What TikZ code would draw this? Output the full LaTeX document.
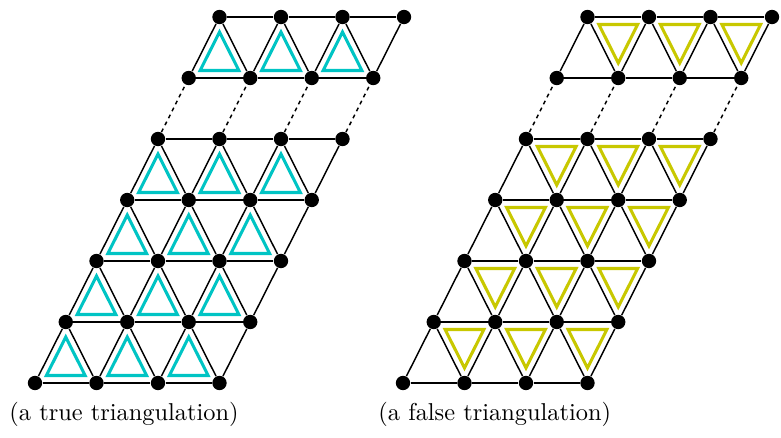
\documentclass[tikz,border=0pt]{standalone}
\usetikzlibrary{calc}
\pgfdeclarelayer{background}
\pgfsetlayers{background,main}
\definecolor{tricyan}{RGB}{0,196,196}
\definecolor{triyellow}{RGB}{200,200,0}
\tikzset{
  dot/.style={circle,fill=black,inner sep=0pt,minimum size=5.9pt},
  edge/.style={line width=0.6pt},
  dashedge/.style={line width=0.6pt,dash pattern=on 1.6pt off 1.6pt},
  uptri/.style={draw=tricyan,line width=1.25pt},
  dntri/.style={draw=triyellow,line width=1.25pt},
  lab/.style={anchor=base west,inner sep=0pt,font=\normalsize}
}
\begin{document}
\begin{tikzpicture}[x=0.41pt,y=-0.41pt]
\useasboundingbox (0,0) rectangle (781,438);
% dots
\foreach \f/\ox in {L/35,R/403}{
  \foreach \k in {0,...,6}{
    \foreach \i in {0,...,3}{
      \node[dot] (\f-\k-\i) at ({\ox+30.75*\k+61.5*\i},{383-61*\k}) {};
    }
  }
}
\begin{pgfonlayer}{background}
% horizontal edges
\foreach \f in {L,R}{
  \foreach \k in {0,...,6}{
    \draw[edge] (\f-\k-0) -- (\f-\k-1) -- (\f-\k-2) -- (\f-\k-3);
  }
  % zigzag edges
  \foreach \k/\kk in {0/1,1/2,2/3,3/4,5/6}{
    \draw[edge] (\f-\k-0) -- (\f-\kk-0) -- (\f-\k-1) -- (\f-\kk-1)
      -- (\f-\k-2) -- (\f-\kk-2) -- (\f-\k-3) -- (\f-\kk-3);
  }
  % dashed edges
  \foreach \i in {0,...,3}{
    \draw[dashedge] (\f-4-\i) -- (\f-5-\i);
  }
}
% inner triangles
\foreach \k/\kk in {0/1,1/2,2/3,3/4,5/6}{
  \foreach \i/\j in {0/1,1/2,2/3}{
    \draw[uptri] (barycentric cs:L-\k-\i=6.11,L-\k-\j=1,L-\kk-\i=1)
      -- (barycentric cs:L-\k-\i=1,L-\k-\j=6.11,L-\kk-\i=1)
      -- (barycentric cs:L-\k-\i=1,L-\k-\j=1,L-\kk-\i=6.11) -- cycle;
    \draw[dntri] (barycentric cs:R-\kk-\i=6.11,R-\kk-\j=1,R-\k-\j=1)
      -- (barycentric cs:R-\kk-\i=1,R-\kk-\j=6.11,R-\k-\j=1)
      -- (barycentric cs:R-\kk-\i=1,R-\kk-\j=1,R-\k-\j=6.11) -- cycle;
  }
}
\end{pgfonlayer}
% labels
\node[lab] (labL) at (9,421) {(a true triangulation)};
\node[lab] (labR) at (378,421) {(a false triangulation)};
\end{tikzpicture}
\end{document}
